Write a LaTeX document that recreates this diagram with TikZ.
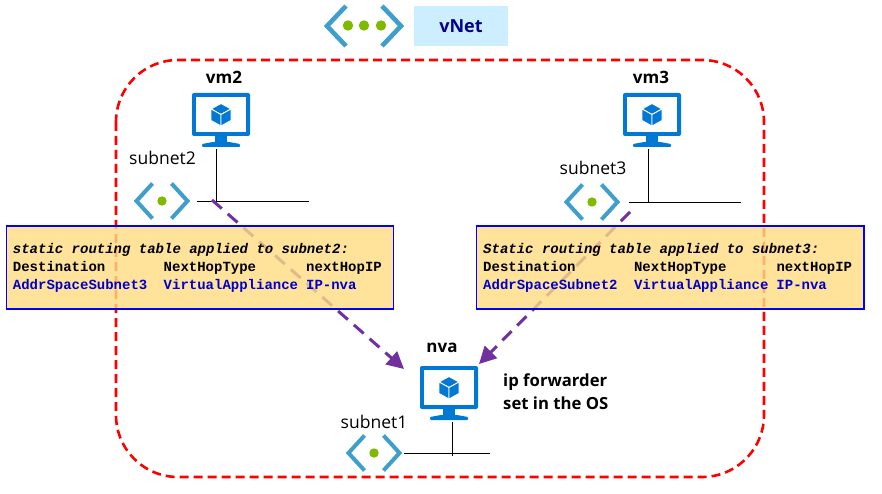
\documentclass[tikz,border=0pt]{standalone}
\usepackage{fontspec}
\setmainfont{Open Sans}
\setmonofont{Liberation Mono}
\usetikzlibrary{arrows.meta}
\definecolor{vmblue}{HTML}{0078D4}
\definecolor{chev}{HTML}{3F9FCC}
\definecolor{leaf}{HTML}{7FBA00}
\definecolor{netred}{HTML}{FF0000}
\definecolor{hop}{HTML}{7030A0}
\definecolor{note}{RGB}{255,220,130}
\definecolor{tag}{HTML}{CCEEFF}
\definecolor{navytext}{HTML}{00008B}
\definecolor{celltext}{HTML}{0000CC}
\newlength{\cw}
\setlength{\cw}{8.38pt}
\newcommand{\rowcells}[3]{\makebox[18\cw][l]{#1}\makebox[17\cw][l]{#2}#3}
\newcommand{\vmicon}[3]{%
  \begin{scope}[shift={(#2,#3)}]
    \node[minimum width=58pt,minimum height=54pt,inner sep=0pt] (#1) at (0,0) {};
    \fill[vmblue,rounded corners=2pt] (-29,-27) rectangle (29,16);
    \fill[white] (-25,-23) rectangle (25,12);
    \fill[vmblue] (-6,15) rectangle (6,23);
    \fill[vmblue,rounded corners=1pt] (-19,27) -- (-19,24) -- (-8,22) -- (8,22) -- (19,24) -- (19,27) -- cycle;
    \fill[vmblue,draw=white,line width=.9pt,line join=round] (0,-16.5) -- (10,-11) -- (0,-5.5) -- (-10,-11) -- cycle;
    \fill[vmblue,draw=white,line width=.9pt,line join=round] (-10,-11) -- (0,-5.5) -- (0,6) -- (-10,.5) -- cycle;
    \fill[vmblue,draw=white,line width=.9pt,line join=round] (10,-11) -- (0,-5.5) -- (0,6) -- (10,.5) -- cycle;
  \end{scope}}
\newcommand{\subneticon}[3]{%
  \begin{scope}[shift={(#2,#3)}]
    \node[minimum width=56pt,minimum height=40pt,inner sep=0pt] (#1) at (0,0) {};
    \draw[chevron] (-9.5,-17.5) -- (-25.5,0) -- (-9.5,17.5);
    \draw[chevron] (9.5,-17.5) -- (25.5,0) -- (9.5,17.5);
    \fill[leaf] (0,0) circle (4.7);
  \end{scope}}
\tikzset{
  x=1pt,y=-1pt,
  chevron/.style={chev,line width=4pt,line join=miter},
  netbound/.style={netred,line width=2.6pt,dash pattern=on 9pt off 5pt,rounded corners=62pt},
  hoparrow/.style={hop,line width=3pt,dash pattern=on 13pt off 8pt,-{Triangle[length=17pt,width=17pt]}},
  wire/.style={black,line width=1pt},
  routebox/.style={draw=blue,line width=1.2pt,fill=note,fill opacity=.8,draw opacity=1},
  tabletext/.style={anchor=base west,inner sep=0pt,align=left,font=\ttfamily\bfseries\fontsize{14}{18}\selectfont},
  plainlabel/.style={inner sep=0pt,font=\fontsize{17.5}{20}\selectfont},
  hostlabel/.style={inner sep=0pt,font=\bfseries\fontsize{17}{20}\selectfont},
  notelabel/.style={inner sep=0pt,anchor=base west,align=left,font=\bfseries\fontsize{16.7}{23}\selectfont},
}
\begin{document}
\begin{tikzpicture}
\useasboundingbox (0,0) rectangle (882,494);
\fill[white] (0,0) rectangle (882,494);
% vnet boundary
\draw[netbound] (116,60) rectangle (764,477);
% vnet legend
\begin{scope}
  \draw[chevron,line width=4.6pt] (346,6) -- (327,26) -- (346,46);
  \draw[chevron,line width=4.6pt] (382,6) -- (401,26) -- (382,46);
  \fill[leaf] (348,25.5) circle (5.2) (364,25.5) circle (5.2) (381,25.5) circle (5.2);
\end{scope}
\node[fill=tag,minimum width=94pt,minimum height=40pt,inner sep=0pt,text=navytext,font=\bfseries\fontsize{18}{20}\selectfont] (vnet) at (461,26) {vNet};
% hosts and subnets
\vmicon{vm2}{221}{120}
\vmicon{vm3}{652}{120}
\vmicon{nva}{449}{393}
\subneticon{sn2}{162}{201}
\subneticon{sn3}{592}{202}
\subneticon{sn1}{374}{453}
\node[hostlabel] (vm2label) at (224,77) {vm2};
\node[hostlabel] (vm3label) at (651,77) {vm3};
\node[hostlabel] (nvalabel) at (442,348) {nva};
\node[plainlabel] (sn2label) at (162.5,158) {subnet2};
\node[plainlabel] (sn3label) at (593,168) {subnet3};
\node[plainlabel] (sn1label) at (374,422) {subnet1};
\node[notelabel] (fwd) at (503,409) {ip forwarder\\set in the OS};
% wires
\coordinate (bus2l) at (197,201.5);
\coordinate (bus2r) at (309,201.5);
\coordinate (bus2j) at (216.5,201.5);
\coordinate (vm2f) at (216.5,149);
\coordinate (bus3l) at (629,202.5);
\coordinate (bus3r) at (741,202.5);
\coordinate (bus3j) at (648,202.5);
\coordinate (vm3f) at (648,149);
\coordinate (bus1l) at (404,453.5);
\coordinate (bus1r) at (490,453.5);
\coordinate (bus1j) at (452.7,456);
\coordinate (nvaf) at (452.7,422);
\draw[wire] (bus2l) -- (bus2r);
\draw[wire] (vm2f) -- (bus2j);
\draw[wire] (bus3l) -- (bus3r);
\draw[wire] (vm3f) -- (bus3j);
\draw[wire] (bus1l) -- (bus1r);
\draw[wire] (nvaf) -- (bus1j);
% routes
\coordinate (r2s) at (212,200);
\coordinate (r2e) at (404,369);
\coordinate (r3s) at (630,212);
\coordinate (r3e) at (479,364);
\draw[hoparrow] (r2s) -- (r2e);
\draw[hoparrow] (r3s) -- (r3e);
% route tables
\fill[routebox,draw] (6.5,226) rectangle (393.5,309);
\fill[routebox,draw] (476.5,226) rectangle (864,309);
\node[tabletext] (tbl2) at (12.7,289) {\textit{static routing table applied to subnet2:}\\[0pt]
\rowcells{Destination}{NextHopType}{nextHopIP}\\
\textcolor{celltext}{\rowcells{AddrSpaceSubnet3}{VirtualAppliance}{IP-nva}}};
\node[tabletext] (tbl3) at (483,289) {\textit{Static routing table applied to subnet3:}\\[0pt]
\rowcells{Destination}{NextHopType}{nextHopIP}\\
\textcolor{celltext}{\rowcells{AddrSpaceSubnet2}{VirtualAppliance}{IP-nva}}};
\end{tikzpicture}
\end{document}
